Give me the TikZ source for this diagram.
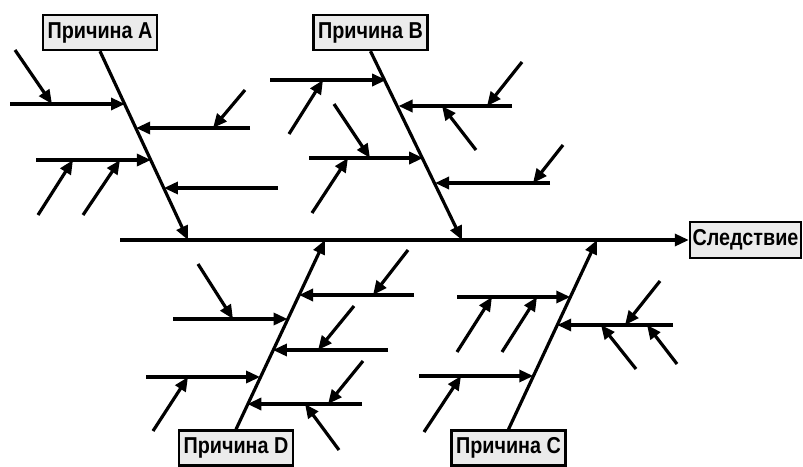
\documentclass[tikz,border=0pt]{standalone}
\usepackage{fontspec}
\setmainfont{Liberation Sans}
\newfontfamily\boxfont{Liberation Sans}[FakeStretch=0.86]
\usetikzlibrary{arrows.meta}

\begin{document}
\begin{tikzpicture}[x=1pt,y=1pt,yscale=-1,
  bone/.style={line width=3.2pt,-{Triangle[length=14pt,width=12pt]}},
  cause/.style={draw,line width=2.4pt,fill=black!8,minimum width=114pt,minimum height=35pt,inner sep=0pt,font=\boxfont\fontsize{23}{23}\selectfont\bfseries}]
\useasboundingbox (0,0) rectangle (803,466);

% Text Node
\node[cause] (ca) at (100,32.5) {Причина A};
\node[cause] (cb) at (370.5,32.5) {Причина B};
\node[cause] (cd) at (236,448) {Причина D};
\node[cause] (cc) at (508.5,448) {Причина C};
\node[cause,minimum width=111pt,minimum height=36pt] (eff) at (745.5,240) {Следствие};

% spine and main bones
\coordinate (tail) at (120,240);
\coordinate (aend) at (188,240);
\coordinate (bend) at (462,240);
\coordinate (dend) at (325,240);
\coordinate (cend) at (597,240);
\draw[bone] (tail) -- (eff.west);
\draw[bone] (ca.south) -- (aend);
\draw[bone] (cb.south) -- (bend);
\draw[bone] (cd.north) -- (dend);
\draw[bone] (cc.north) -- (cend);

%Straight Lines (branches onto the bones)
\foreach \xa/\xb/\y in {10/125/104, 250/136.1/128, 36/150.9/160, 278/163.9/188,
                        270/386.2/80, 512/398.5/106, 309/423.2/158, 550/435/183,
                        414/299/295, 173/287.6/319, 388/272.9/350, 146/260.1/377, 362/247.3/404,
                        457/570.3/297, 673/557.2/325, 419/533.3/376}
  \draw[bone] (\xa,\y) -- (\xb,\y);

%Straight Lines (small arrows onto the branches)
\foreach \xa/\ya/\xb/\yb in {15/50/52/104, 245/90/213/128, 38/215/73/160, 83/215/120/160,
                             289/134/323/80, 522/62/487/106, 476/150/442/106, 334/104/370/158, 312/213/348/158, 563/145/533/183,
                             408/250/373/295, 198/264/233/319, 354/306/318/350, 153/431/188/377, 363/361/328/404, 339/450/305/404,
                             457/352/492/297, 502/352/537/297, 660/281/625/325, 636/369/601/325, 677/364/647/325, 424/432/461/376}
  \draw[bone] (\xa,\ya) -- (\xb,\yb);

\end{tikzpicture}
\end{document}
